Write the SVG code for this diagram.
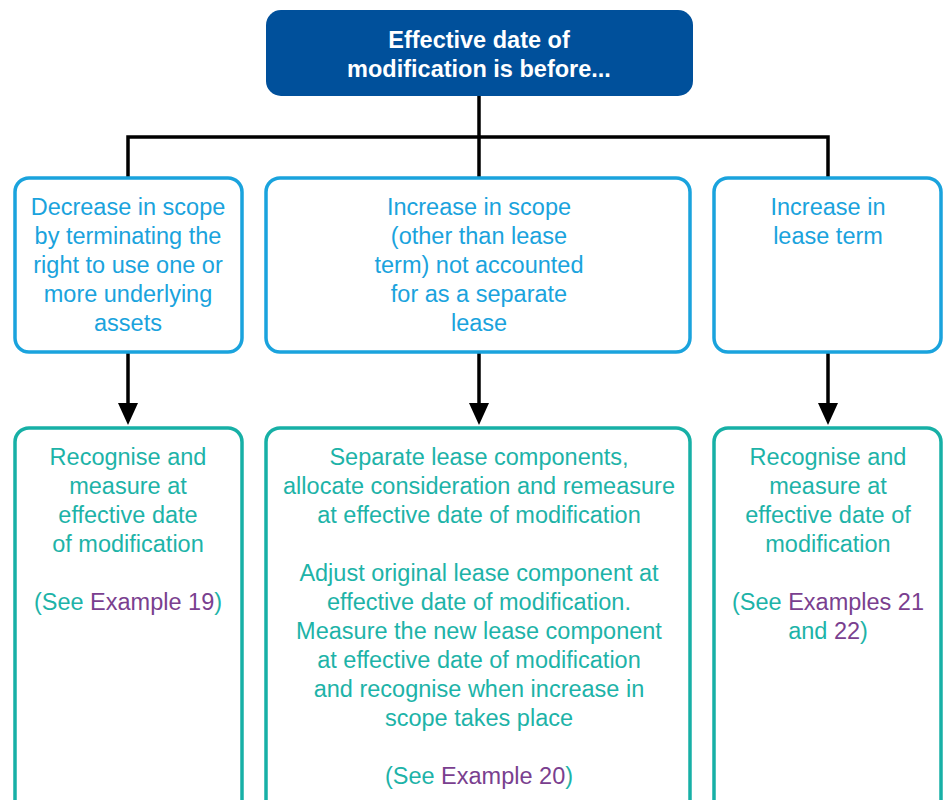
<svg xmlns="http://www.w3.org/2000/svg" width="947" height="800" viewBox="0 0 947 800">
<defs>
<style>
.t{font-family:"Liberation Sans",Arial,sans-serif;font-size:23.5px;text-anchor:middle}
.title{font-family:"Liberation Sans",Arial,sans-serif;font-size:23.5px;font-weight:bold;fill:#fff;text-anchor:middle}
.mid{fill:#fff;stroke:#1aa3dd;stroke-width:3.5}
.bot{fill:#fff;stroke:#17b0a6;stroke-width:3.5}
.mt{fill:#1aa3dd}
.bt{fill:#1db3a8}
.pu{fill:#7a3f8f}
.ln{fill:none;stroke:#000;stroke-width:3.5}
</style>
</defs>
<g id="connectors">
<path class="ln" d="M479,96 V178"/>
<path class="ln" d="M128,178 V137 H828 V178"/>
<path class="ln" d="M128,353 V405"/>
<path class="ln" d="M479,353 V405"/>
<path class="ln" d="M828,353 V405"/>
<path d="M118,403 L138,403 L128,425 Z" fill="#000"/>
<path d="M469,403 L489,403 L479,425 Z" fill="#000"/>
<path d="M818,403 L838,403 L828,425 Z" fill="#000"/>
</g>
<g id="top">
<rect x="266" y="10" width="427" height="86" rx="15" fill="#00509b"/>
<text class="title" x="479" y="48">Effective date of</text>
<text class="title" x="479" y="77">modification is before...</text>
</g>
<g id="decrease">
<rect class="mid" x="15" y="178" width="227" height="174" rx="14"/>
<text class="t mt" x="128" y="215">Decrease in scope</text>
<text class="t mt" x="128" y="244">by terminating the</text>
<text class="t mt" x="128" y="273">right to use one or</text>
<text class="t mt" x="128" y="302">more underlying</text>
<text class="t mt" x="128" y="331">assets</text>
</g>
<g id="increase-scope">
<rect class="mid" x="266" y="178" width="424" height="174" rx="14"/>
<text class="t mt" x="479" y="215">Increase in scope</text>
<text class="t mt" x="479" y="244">(other than lease</text>
<text class="t mt" x="479" y="273">term) not accounted</text>
<text class="t mt" x="479" y="302">for as a separate</text>
<text class="t mt" x="479" y="331">lease</text>
</g>
<g id="increase-term">
<rect class="mid" x="714" y="178" width="227" height="174" rx="14"/>
<text class="t mt" x="828" y="215">Increase in</text>
<text class="t mt" x="828" y="244">lease term</text>
</g>
<g id="result-left">
<rect class="bot" x="15" y="428" width="227" height="400" rx="14"/>
<text class="t bt" x="128" y="465">Recognise and</text>
<text class="t bt" x="128" y="494">measure at</text>
<text class="t bt" x="128" y="523">effective date</text>
<text class="t bt" x="128" y="552">of modification</text>
<text class="t bt" x="128" y="610">(See <tspan class="pu">Example 19</tspan>)</text>
</g>
<g id="result-middle">
<rect class="bot" x="266" y="428" width="424" height="400" rx="14"/>
<text class="t bt" x="479" y="465">Separate lease components,</text>
<text class="t bt" x="479" y="494">allocate consideration and remeasure</text>
<text class="t bt" x="479" y="523">at effective date of modification</text>
<text class="t bt" x="479" y="581">Adjust original lease component at</text>
<text class="t bt" x="479" y="610">effective date of modification.</text>
<text class="t bt" x="479" y="639">Measure the new lease component</text>
<text class="t bt" x="479" y="668">at effective date of modification</text>
<text class="t bt" x="479" y="697">and recognise when increase in</text>
<text class="t bt" x="479" y="726">scope takes place</text>
<text class="t bt" x="479" y="784">(See <tspan class="pu">Example 20</tspan>)</text>
</g>
<g id="result-right">
<rect class="bot" x="714" y="428" width="227" height="400" rx="14"/>
<text class="t bt" x="828" y="465">Recognise and</text>
<text class="t bt" x="828" y="494">measure at</text>
<text class="t bt" x="828" y="523">effective date of</text>
<text class="t bt" x="828" y="552">modification</text>
<text class="t bt" x="828" y="610">(See <tspan class="pu">Examples 21</tspan></text>
<text class="t bt" x="828" y="639">and <tspan class="pu">22</tspan>)</text>
</g>
</svg>
